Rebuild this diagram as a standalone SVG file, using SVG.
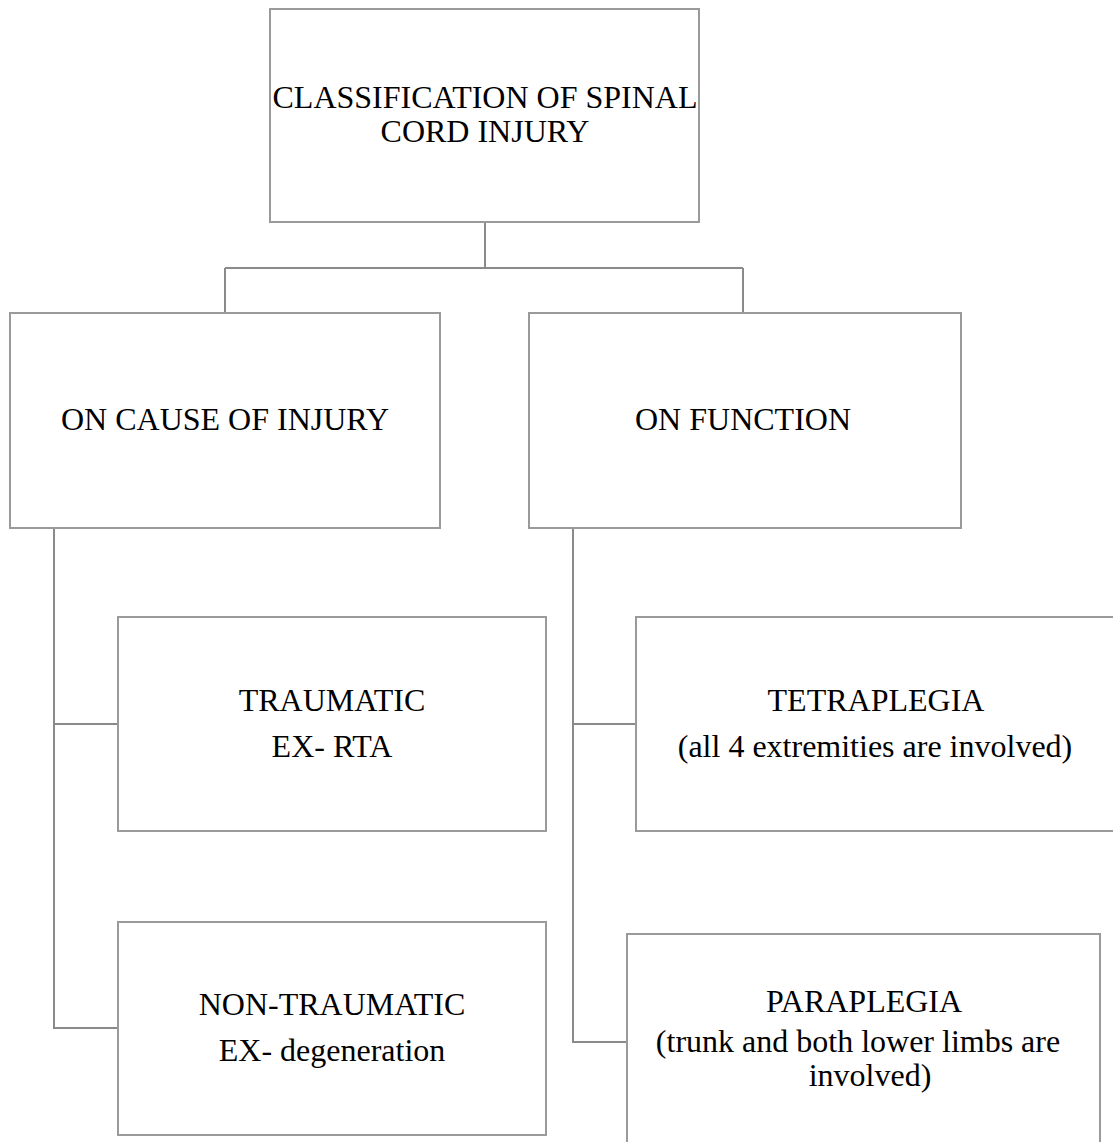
<svg xmlns="http://www.w3.org/2000/svg" width="1113" height="1142" viewBox="0 0 1113 1142">
<style>
.box{fill:#fff;stroke:#9a9a9a;stroke-width:2}
.con{fill:none;stroke:#8a8a8a;stroke-width:2}
text{font-family:"Liberation Serif","Times New Roman",serif;font-size:32px;fill:#000;text-anchor:middle}
</style>
<rect width="1113" height="1142" fill="#fff"/>
<g id="connectors">
<path class="con" d="M485 222V268M225 268H743M225 268V313M743 268V313"/>
<path class="con" d="M54 528V1028H118M54 724H118"/>
<path class="con" d="M573 528V1042H627M573 724H636"/>
</g>
<g id="root">
<rect class="box" x="270" y="9" width="429" height="213"/>
<text x="485" y="108">CLASSIFICATION OF SPINAL</text>
<text x="485" y="142">CORD INJURY</text>
</g>
<g id="cause">
<rect class="box" x="10" y="313" width="430" height="215"/>
<text x="225" y="430">ON CAUSE OF INJURY</text>
</g>
<g id="function">
<rect class="box" x="529" y="313" width="432" height="215"/>
<text x="743" y="430">ON FUNCTION</text>
</g>
<g id="traumatic">
<rect class="box" x="118" y="617" width="428" height="214"/>
<text x="332" y="711">TRAUMATIC</text>
<text x="332" y="757">EX- RTA</text>
</g>
<g id="nontraumatic">
<rect class="box" x="118" y="922" width="428" height="213"/>
<text x="332" y="1015">NON-TRAUMATIC</text>
<text x="332" y="1061">EX- degeneration</text>
</g>
<g id="tetraplegia">
<rect class="box" x="636" y="617" width="482" height="214"/>
<text x="876" y="711">TETRAPLEGIA</text>
<text x="875" y="757">(all 4 extremities are involved)</text>
</g>
<g id="paraplegia">
<rect class="box" x="627" y="934" width="473" height="220"/>
<text x="864" y="1012">PARAPLEGIA</text>
<text x="858" y="1052">(trunk and both lower limbs are</text>
<text x="870" y="1086">involved)</text>
</g>
</svg>
